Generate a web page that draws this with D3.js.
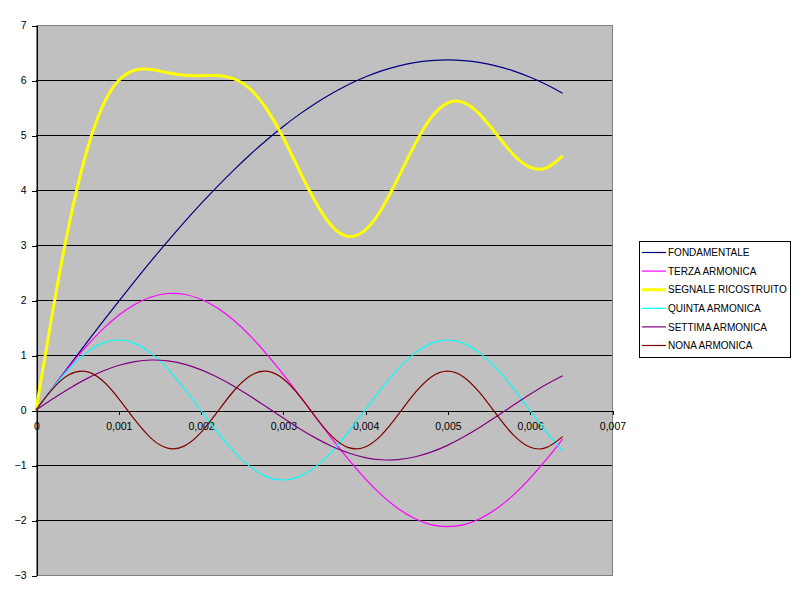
<!DOCTYPE html>
<html>
<head>
<meta charset="utf-8">
<script src="https://cdn.jsdelivr.net/npm/d3@7"></script>
<style>
	body { margin: 0; background: #fff; }
	svg { display: block; font-family: Arial, "Liberation Sans", sans-serif; }
	.axis text { font-size: 10.5px; fill: #000; }
	.legend text { font-size: 10px; fill: #000; }
</style>
</head>
<body>
<svg width="800" height="600"></svg>
<script>
// time values (s)
var tempi = [0, 0.0002, 0.0004, 0.0006, 0.0008, 0.001, 0.0012, 0.0014, 0.0016, 0.0018,
	0.002, 0.0022, 0.0024, 0.0026, 0.0028, 0.003, 0.0032, 0.0034, 0.0036, 0.0038,
	0.004, 0.0042, 0.0044, 0.0046, 0.0048, 0.005, 0.0052, 0.0054, 0.0056, 0.0058,
	0.006, 0.0062, 0.0064];

var fondamentale = [0, 0.400, 0.798, 1.193, 1.583, 1.967, 2.343, 2.711, 3.067, 3.411, 3.742, 4.058, 4.358, 4.641,
	4.905, 5.150, 5.375, 5.579, 5.760, 5.919, 6.054, 6.166, 6.253, 6.316, 6.353, 6.366, 6.353, 6.316, 6.253, 6.166,
	6.054, 5.919, 5.760];
var terza = [0, 0.398, 0.781, 1.137, 1.453, 1.717, 1.920, 2.055, 2.118, 2.105, 2.018, 1.860, 1.635, 1.353, 1.022,
	0.656, 0.266, -0.133, -0.528, -0.904, -1.247, -1.547, -1.792, -1.973, -2.084, -2.122, -2.084, -1.973, -1.792,
	-1.547, -1.247, -0.904, -0.528];
var segnale = [0, 1.768, 3.354, 4.618, 5.492, 5.985, 6.178, 6.190, 6.132, 6.086, 6.079, 6.082, 6.024, 5.838, 5.479,
	4.963, 4.355, 3.773, 3.337, 3.155, 3.270, 3.656, 4.218, 4.819, 5.310, 5.581, 5.590, 5.366, 5.006, 4.647, 4.416,
	4.400, 4.622];
var quinta = [0, 0.393, 0.748, 1.030, 1.211, 1.273, 1.211, 1.030, 0.748, 0.393, 0, -0.393, -0.748, -1.030, -1.211,
	-1.273, -1.211, -1.030, -0.748, -0.393, 0, 0.393, 0.748, 1.030, 1.211, 1.273, 1.211, 1.030, 0.748, 0.393, 0,
	-0.393, -0.748];
var settima = [0, 0.198, 0.387, 0.557, 0.700, 0.810, 0.880, 0.909, 0.893, 0.834, 0.735, 0.601, 0.438, 0.254, 0.057,
	-0.142, -0.335, -0.511, -0.663, -0.782, -0.865, -0.905, -0.902, -0.855, -0.767, -0.643, -0.487, -0.308, -0.114,
	0.086, 0.281, 0.463, 0.622];
var nona = [0, 0.379, 0.640, 0.701, 0.545, 0.218, -0.176, -0.515, -0.694, -0.657, -0.416, -0.044, 0.341, 0.620,
	0.706, 0.572, 0.260, -0.132, -0.484, -0.685, -0.672, -0.451, -0.089, 0.301, 0.597, 0.707, 0.597, 0.301, -0.089,
	-0.451, -0.672, -0.685, -0.484];

var nomiSerie = ["FONDAMENTALE", "TERZA ARMONICA", "SEGNALE RICOSTRUITO", "QUINTA ARMONICA", "SETTIMA ARMONICA", "NONA ARMONICA"];
var valoriSerie = [fondamentale, terza, segnale, quinta, settima, nona];
var coloriSerie = ["#000080", "#ff00ff", "#ffff00", "#00ffff", "#800080", "#800000"];

var xTicks = [0, 0.001, 0.002, 0.003, 0.004, 0.005, 0.006, 0.007];
var xTickLabels = ["0", "0,001", "0,002", "0,003", "0,004", "0,005", "0,006", "0,007"];
var yTicks = [-3, -2, -1, 0, 1, 2, 3, 4, 5, 6, 7];

var plot = {x: 36, y: 25, w: 576, h: 550};

var svg = d3.select("svg");

var xScale = d3.scaleLinear()
				.domain([0, 0.007])
				.range([plot.x, plot.x + plot.w]);
var yScale = d3.scaleLinear()
				.domain([-3, 7])
				.range([plot.y + plot.h, plot.y]);

// gray plot area
svg.append("rect")
	.attr("x", plot.x + 0.5)
	.attr("y", plot.y + 0.5)
	.attr("width", plot.w)
	.attr("height", plot.h)
	.attr("fill", "#c0c0c0")
	.attr("stroke", "#808080")
	.attr("stroke-width", 1);

// horizontal gridlines (not on the border)
svg.append("g")
	.attr("id", "grid")
	.selectAll("line")
	.data(yTicks.filter(function(d){ return d > -3 && d < 7 && d != 0; }))
	.enter().append("line")
	.attr("x1", plot.x)
	.attr("x2", plot.x + plot.w)
	.attr("y1", function(d){ return Math.round(yScale(d)) + 0.5; })
	.attr("y2", function(d){ return Math.round(yScale(d)) + 0.5; })
	.attr("stroke", "#000")
	.attr("stroke-width", 1)
	.attr("shape-rendering", "crispEdges");

// y axis
var yAxis = d3.axisLeft(yScale)
				.tickValues(yTicks)
				.tickSize(5)
				.tickSizeOuter(0)
				.tickPadding(5);
svg.append("g")
	.attr("class", "axis")
	.attr("transform", "translate(" + (plot.x + 0.5) + ",0.5)")
	.call(yAxis);

// x axis on the zero line
var xAxis = d3.axisBottom(xScale)
				.tickValues(xTicks)
				.tickSize(4)
				.tickSizeOuter(0)
				.tickPadding(8)
				.tickFormat(function(d, i){ return xTickLabels[i]; });
svg.append("g")
	.attr("class", "axis")
	.attr("transform", "translate(0.5," + (Math.round(yScale(0)) + 0.5) + ")")
	.call(xAxis);

svg.selectAll(".axis path, .axis line")
	.attr("stroke", "#000")
	.attr("shape-rendering", "crispEdges");

// series lines
var lineGenerator = d3.line()
						.x(function(d, i){ return xScale(tempi[i]); })
						.y(function(d){ return yScale(d); })
						.curve(d3.curveNatural);

svg.append("g")
	.attr("id", "series")
	.selectAll("path")
	.data(valoriSerie)
	.enter().append("path")
	.attr("d", lineGenerator)
	.attr("fill", "none")
	.attr("stroke", function(d, i){ return coloriSerie[i]; })
	.attr("stroke-width", function(d, i){ return nomiSerie[i] == "SEGNALE RICOSTRUITO" ? 3 : 1.2; })
	.attr("stroke-linejoin", "round");

// legend
var legend = svg.append("g")
				.attr("class", "legend");
legend.append("rect")
	.attr("x", 639.5)
	.attr("y", 241.5)
	.attr("width", 151)
	.attr("height", 116)
	.attr("fill", "#fff")
	.attr("stroke", "#000")
	.attr("stroke-width", 1);

var voci = legend.selectAll("g.voce")
				.data(nomiSerie)
				.enter().append("g")
				.attr("class", "voce")
				.attr("transform", function(d, i){
					return "translate(0," + (252.5 + i * 18.6) + ")";
				});
voci.append("line")
	.attr("x1", 642)
	.attr("x2", 666)
	.attr("y1", 0)
	.attr("y2", 0)
	.attr("stroke", function(d, i){ return coloriSerie[i]; })
	.attr("stroke-width", function(d){ return d == "SEGNALE RICOSTRUITO" ? 3 : 1.2; });
voci.append("text")
	.attr("x", 668)
	.attr("y", 0)
	.attr("dy", "0.36em")
	.text(function(d){ return d; });
</script>
</body>
</html>
